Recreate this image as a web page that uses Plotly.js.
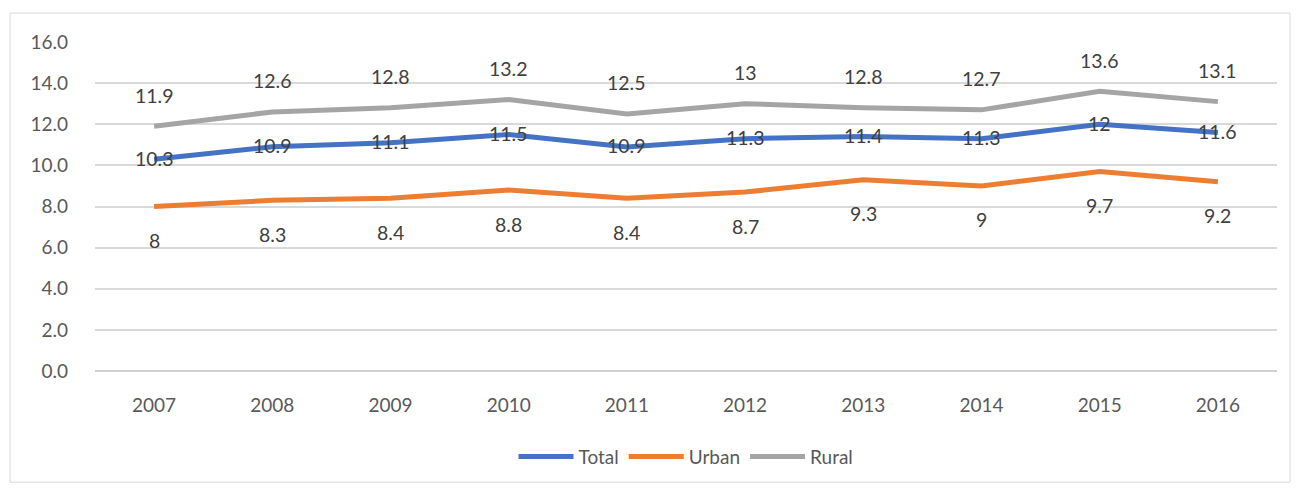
<!DOCTYPE html>
<html>
<head>
<meta charset="utf-8">
<script src="https://cdn.plot.ly/plotly-3.0.1.min.js"></script>
<style>
html,body{margin:0;padding:0;background:#fff;}
#chart{width:1298px;height:488px;}
</style>
</head>
<body>
<div id="chart"></div>
<script>
var years = ['2007','2008','2009','2010','2011','2012','2013','2014','2015','2016'];
var totalVals = [10.3, 10.9, 11.1, 11.5, 10.9, 11.3, 11.4, 11.3, 12, 11.6];
var urbanVals = [8, 8.3, 8.4, 8.8, 8.4, 8.7, 9.3, 9, 9.7, 9.2];
var ruralVals = [11.9, 12.6, 12.8, 13.2, 12.5, 13, 12.8, 12.7, 13.6, 13.1];
var yTicks = [0, 2, 4, 6, 8, 10, 12, 14, 16];

var FONT = 'Lato, "Open Sans", sans-serif';
var xIdx = years.map(function (_, i) { return i; });

function series(name, vals, color) {
  return {
    type: 'scatter', mode: 'lines', name: name,
    x: xIdx, y: vals,
    line: {color: color, width: 5},
    hoverinfo: 'skip'
  };
}

var data = [
  series('Total', totalVals, '#4472C4'),
  series('Urban', urbanVals, '#ED7D31'),
  series('Rural', ruralVals, '#A5A5A5')
];

var annotations = [];
function addLabels(vals, shift) {
  vals.forEach(function (v, i) {
    annotations.push({
      x: xIdx[i], y: v, xref: 'x', yref: 'y',
      text: String(v), showarrow: false, yshift: shift,
      font: {family: FONT, size: 19.5, color: '#404040'}
    });
  });
}
addLabels(ruralVals, 31);
addLabels(totalVals, 1);
addLabels(urbanVals, -34);

var layout = {
  width: 1298, height: 488,
  margin: {l: 95, r: 21, t: 42, b: 115},
  paper_bgcolor: '#ffffff', plot_bgcolor: '#ffffff',
  showlegend: true,
  legend: {
    orientation: 'h', x: 0.5, xanchor: 'center', y: -0.26, yanchor: 'middle',
    font: {family: FONT, size: 19, color: '#595959'},
    itemwidth: 55
  },
  xaxis: {
    type: 'linear', range: [-0.5, 9.5],
    tickvals: xIdx, ticktext: years,
    showgrid: false, zeroline: false, showline: false,
    ticks: '', tickfont: {family: FONT, size: 19, color: '#595959'},
    ticklabelstandoff: 21
  },
  yaxis: {
    range: [0, 16], tickvals: yTicks, tickformat: '.1f',
    showgrid: true, gridcolor: '#D9D9D9', gridwidth: 2,
    zeroline: true, zerolinecolor: '#D0D0D0', zerolinewidth: 2.5,
    showline: false, ticks: '',
    tickfont: {family: FONT, size: 19, color: '#595959'},
    ticklabelstandoff: 26
  },
  annotations: annotations,
  shapes: [{
    type: 'rect', xref: 'paper', yref: 'paper',
    x0: -0.0719, x1: 1.011, y0: -0.338, y1: 1.088,
    line: {color: '#D9D9D9', width: 1}, fillcolor: 'rgba(0,0,0,0)', layer: 'below'
  }]
};

Plotly.newPlot('chart', data, layout, {displayModeBar: false, staticPlot: true});
</script>
</body>
</html>
